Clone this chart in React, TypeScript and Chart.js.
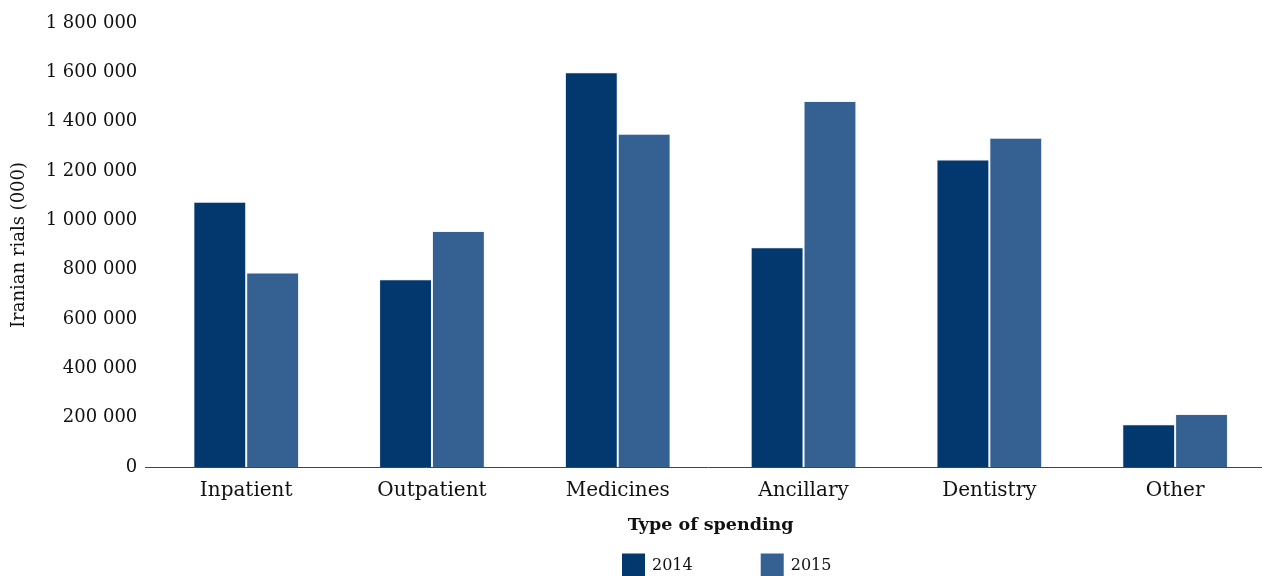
import React, { useEffect, useRef } from "react";
import { Chart, registerables } from "chart.js";

Chart.register(...registerables);

const categories = ["Inpatient", "Outpatient", "Medicines", "Ancillary", "Dentistry", "Other"];
const seriesLabels = ["2014", "2015"];
const values2014 = [1075000, 761000, 1600000, 891000, 1247000, 173000];
const values2015 = [789000, 957000, 1351000, 1484000, 1335000, 215000];
const yTicks = [0, 200000, 400000, 600000, 800000, 1000000, 1200000, 1400000, 1600000, 1800000];

const FONT = "'DejaVu Serif', serif";
const COLORS = ["#02386e", "#356092"];

const fmt = (v: number) => String(v).replace(/\B(?=(\d{3})+(?!\d))/g, " ");

// Baseline rule that starts a little left of the plot area
const baseline = {
  id: "baseline",
  afterDatasetsDraw(chart: any) {
    const { ctx, chartArea } = chart;
    const y = Math.round(chartArea.bottom) + 0.5;
    ctx.save();
    ctx.strokeStyle = "#444";
    ctx.lineWidth = 1;
    ctx.beginPath();
    ctx.moveTo(145, y);
    ctx.lineTo(chartArea.right + 4, y);
    ctx.stroke();
    ctx.restore();
  },
};

// Legend strip below the axis title
const bottomLegend = {
  id: "bottomLegend",
  afterDraw(chart: any) {
    const { ctx } = chart;
    const y = 565;
    const box = 23;
    const gap = 7;
    const itemGap = 68;
    ctx.save();
    ctx.font = `16px ${FONT}`;
    ctx.textBaseline = "middle";
    let x = 622;
    chart.data.datasets.forEach((d: any) => {
      ctx.fillStyle = d.backgroundColor;
      ctx.fillRect(x, y - box / 2, box, box);
      ctx.fillStyle = "#111";
      ctx.textAlign = "left";
      ctx.fillText(d.label, x + box + gap, y + 1);
      x += box + gap + ctx.measureText(d.label).width + itemGap;
    });
    ctx.restore();
  },
};

export default function App() {
  const ref = useRef<HTMLCanvasElement>(null);

  useEffect(() => {
    if (!ref.current) return;
    const chart = new Chart(ref.current, {
      type: "bar",
      data: {
        labels: categories,
        datasets: [
          {
            label: seriesLabels[0],
            data: values2014,
            backgroundColor: COLORS[0],
            borderColor: "rgba(205,218,235,0.3)",
            borderWidth: 1,
            categoryPercentage: 0.569,
            barPercentage: 1,
          },
          {
            label: seriesLabels[1],
            data: values2015,
            backgroundColor: COLORS[1],
            borderColor: "rgba(205,218,235,0.3)",
            borderWidth: 1,
            categoryPercentage: 0.569,
            barPercentage: 1,
          },
        ],
      },
      plugins: [baseline, bottomLegend],
      options: {
        animation: false,
        responsive: false,
        layout: { padding: { top: 23, right: 4, bottom: 36, left: 0 } },
        plugins: {
          legend: { display: false },
          tooltip: { enabled: false },
        },
        scales: {
          x: {
            grid: { display: false },
            border: { display: false },
            ticks: {
              color: "#111",
              font: { family: FONT, size: 20 },
              padding: 4,
            },
            title: {
              display: true,
              text: "Type of spending",
              color: "#111",
              font: { family: FONT, size: 17.5, weight: "bold" },
              padding: { top: 4, bottom: 4 },
            },
            afterFit: (scale: any) => {
              scale.height = 73;
            },
          },
          y: {
            min: 0,
            max: 1800000,
            afterBuildTicks: (scale: any) => {
              scale.ticks = yTicks.map((v) => ({ value: v }));
            },
            grid: { display: false },
            border: { display: false },
            ticks: {
              color: "#111",
              font: { family: FONT, size: 18 },
              padding: 8,
              callback: (v: any) => fmt(Number(v)),
            },
            title: {
              display: true,
              text: "Iranian rials (000)",
              color: "#111",
              font: { family: FONT, size: 18 },
              padding: { top: 9, bottom: 0 },
            },
            afterFit: (scale: any) => {
              scale.width = 153.3;
            },
          },
        },
      },
    });
    return () => chart.destroy();
  }, []);

  return (
    <div
      style={{
        position: "absolute",
        left: 0,
        top: 0,
        width: 1262,
        height: 576,
        overflow: "hidden",
        background: "#fff",
      }}
    >
      <canvas ref={ref} width={1272} height={576} style={{ display: "block" }} />
    </div>
  );
}
